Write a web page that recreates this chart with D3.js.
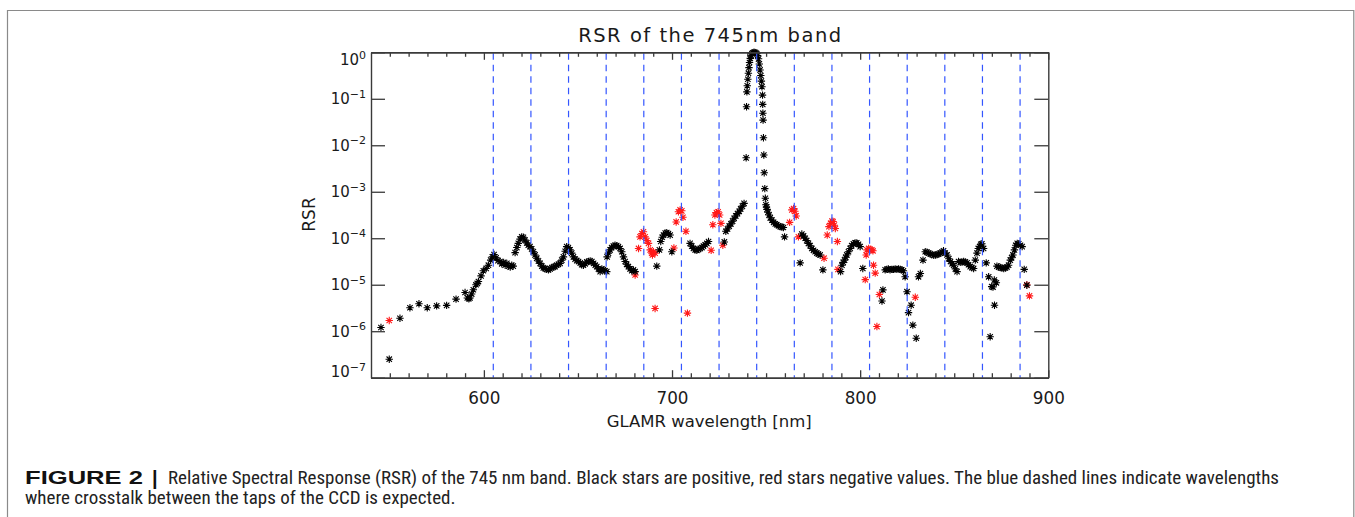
<!DOCTYPE html>
<html><head><meta charset="utf-8">
<script src="https://cdn.jsdelivr.net/npm/d3@7"></script>
<style>body{margin:0;background:#fff} svg{display:block}</style>
</head><body>
<svg id="chart" width="1355" height="517"></svg>
<script>
// ---------- data (wavelength nm, |RSR|) ----------
const positivePoints = [
[545.3,1.2e-6],[549.7,2.5e-7],[555.4,1.9e-6],[560.7,3.2e-6],[565.5,3.9e-6],[569.9,3.2e-6],[574.9,3.5e-6],[580.2,3.6e-6],[585.2,4.9e-6],
[590.0,6.8e-6],[591.2,5.2e-6],[592.0,5.0e-6],[592.6,5.2e-6],[593.5,6.3e-6],[594.4,7.8e-6],[595.8,1.0e-5],[596.5,1.07e-5],[597.1,1.17e-5],
[598.5,1.55e-5],[599.7,2.0e-5],[601.2,2.24e-5],[602.4,2.63e-5],[603.6,3.39e-5],[604.5,3.98e-5],[605.4,4.47e-5],[606.5,3.8e-5],[607.5,3.31e-5],
[608.6,3.16e-5],[609.5,2.82e-5],[610.5,3.02e-5],[611.3,2.63e-5],[612.2,2.88e-5],[613.2,2.51e-5],[614.0,2.4e-5],[614.8,2.63e-5],[615.6,2.51e-5],
[616.6,4.9e-5],[617.5,6.31e-5],[618.3,7.76e-5],[619.2,9.55e-5],[620.1,1.07e-4],[621.0,1.05e-4],[621.9,9.12e-5],[622.8,7.94e-5],[623.6,7.08e-5],
[624.5,6.61e-5],[625.4,5.89e-5],[626.3,5.13e-5],[627.2,4.37e-5],[628.1,3.72e-5],[629.0,3.24e-5],[629.9,2.88e-5],[630.8,2.51e-5],[631.6,2.29e-5],
[632.5,2.24e-5],[633.4,2.14e-5],[634.3,2.09e-5],[635.2,2.19e-5],[636.1,2.34e-5],[637.0,2.4e-5],[637.8,2.45e-5],[638.7,2.63e-5],[639.6,2.75e-5],
[640.5,2.88e-5],[641.4,3.39e-5],[642.3,3.98e-5],[643.2,5.25e-5],[644.0,6.61e-5],[644.9,6.31e-5],[645.8,5.62e-5],[646.7,4.79e-5],[647.6,3.98e-5],
[648.5,3.55e-5],[649.4,3.31e-5],[650.3,3.16e-5],[651.2,2.95e-5],[652.0,2.69e-5],[652.9,2.63e-5],[653.8,2.82e-5],[654.7,3.09e-5],[655.6,3.16e-5],
[656.5,3.24e-5],[657.4,3.16e-5],[658.3,2.88e-5],[659.2,2.63e-5],[660.0,2.45e-5],[660.9,2.19e-5],[661.8,1.91e-5],[662.7,2.19e-5],[663.5,2.09e-5],
[664.4,2.0e-5],[665.3,1.91e-5],[665.5,3.98e-5],[666.2,4.79e-5],[667.1,5.62e-5],[667.9,6.31e-5],[668.8,6.76e-5],[669.7,7.08e-5],[670.6,6.92e-5],
[671.5,6.61e-5],[672.4,6.03e-5],[673.3,5.13e-5],[674.2,3.98e-5],[675.1,3.16e-5],[675.9,2.75e-5],[676.8,2.45e-5],[677.7,2.19e-5],[678.6,2.0e-5],
[679.5,2.09e-5],[680.4,1.91e-5],
[691.9,2.51e-5],[693.3,5.62e-5],[694.0,8.51e-5],[694.8,1.05e-4],[695.5,1.17e-4],[696.4,1.29e-4],[697.2,1.32e-4],[698.1,1.26e-4],[699.0,1.17e-4],[699.9,5.13e-5],
[709.6,7.76e-5],[710.5,6.76e-5],[711.4,6.03e-5],[712.3,5.62e-5],[713.2,5.5e-5],[714.1,5.75e-5],[715.0,6.03e-5],[715.9,6.31e-5],[716.7,6.76e-5],
[717.6,7.24e-5],[718.5,7.76e-5],[719.4,8.51e-5],
[727.8,8.32e-5],[728.6,1.41e-4],[729.5,1.58e-4],[730.4,1.82e-4],[731.3,2.04e-4],[732.2,2.34e-4],[733.0,2.69e-4],[733.9,3.02e-4],[734.8,3.39e-4],
[735.7,3.8e-4],[736.5,4.27e-4],[737.4,4.9e-4],[738.3,5.62e-4],
[739.4,5.37e-3],[739.6,6.76e-2],[739.8,0.141],[740.0,0.191],[740.3,0.263],[740.6,0.355],[740.9,0.468],[741.2,0.603],[741.6,0.741],[742.0,0.851],
[742.5,0.933],[743.0,0.977],[743.5,1.0],[744.0,0.995],[744.5,0.977],[745.0,0.933],[745.5,0.851],[746.0,0.724],[746.4,0.562],[746.8,0.417],
[747.2,0.316],[747.5,0.24],[747.8,0.182],[748.1,0.12],[748.2,7.59e-2],[748.3,4.9e-2],[748.4,3.47e-2],[748.6,1.45e-2],[748.8,6.17e-3],
[749.0,2.57e-3],[749.3,1.17e-3],[749.6,7.24e-4],[749.9,5.25e-4],[750.2,4.68e-4],[750.5,4.17e-4],[751.0,3.63e-4],[751.6,3.16e-4],[752.2,2.75e-4],
[753.1,2.45e-4],[754.0,2.19e-4],[754.9,2.04e-4],[755.7,1.95e-4],[756.6,1.86e-4],[757.5,1.78e-4],[758.4,1.74e-4],[759.2,1.7e-4],[759.8,1.07e-4],
[768.1,2.95e-5],[769.0,1.23e-4],[769.9,1.12e-4],[770.8,1.0e-4],[771.6,8.91e-5],[772.5,7.76e-5],[773.4,6.92e-5],[774.3,6.03e-5],[775.2,5.5e-5],
[776.1,5.13e-5],[777.0,4.79e-5],[777.8,4.57e-5],[778.7,4.37e-5],[780.2,2.09e-5],
[789.6,1.91e-5],[790.3,2.63e-5],[791.0,3.02e-5],[791.7,3.39e-5],[792.3,3.89e-5],[792.9,4.37e-5],[793.8,5.13e-5],[794.7,6.03e-5],[795.5,6.92e-5],
[796.4,7.59e-5],[797.3,7.94e-5],[798.2,7.94e-5],[799.1,7.41e-5],[800.0,6.61e-5],[801.4,2.24e-5],
[811.6,4.47e-6],[812.1,7.76e-6],[813.3,2.09e-5],[814.2,2.14e-5],[815.0,2.19e-5],[815.9,2.09e-5],[816.8,2.14e-5],[817.7,2.14e-5],[818.6,2.19e-5],
[819.5,2.14e-5],[820.4,2.19e-5],[821.3,2.14e-5],[822.1,2.09e-5],[823.0,2.0e-5],[823.9,1.48e-5],[824.9,7.08e-6],[825.7,2.51e-6],[827.1,3.63e-6],
[828.0,1.35e-6],[829.8,7.08e-7],[831.0,1.48e-5],[832.0,1.74e-5],[833.4,3.39e-5],[834.6,5.13e-5],[835.5,5.01e-5],[836.4,4.79e-5],[837.3,4.57e-5],
[838.2,4.47e-5],[839.1,4.27e-5],[840.0,4.37e-5],[840.9,4.47e-5],[841.7,4.57e-5],[842.6,4.79e-5],[843.5,5.01e-5],[844.3,5.37e-5],[845.2,4.79e-5],
[846.2,4.37e-5],[847.1,3.63e-5],[848.0,3.16e-5],[848.9,2.82e-5],[849.7,2.63e-5],[850.6,2.19e-5],[851.5,1.91e-5],[852.3,3.16e-5],[853.2,3.02e-5],
[854.1,3.09e-5],[855.0,3.16e-5],[855.9,3.09e-5],[856.8,2.95e-5],[857.6,2.69e-5],[858.5,2.45e-5],[859.4,2.34e-5],[860.3,2.24e-5],[861.2,3.39e-5],
[862.1,4.79e-5],[862.8,6.03e-5],[863.5,6.61e-5],[864.1,7.41e-5],[864.7,7.59e-5],[865.6,6.03e-5],[867.0,2.95e-5],[868.3,1.48e-5],[869.1,7.59e-7],
[869.9,9.12e-6],[870.6,8.91e-6],[871.3,1.26e-5],[871.4,3.63e-6],[872.4,1.1e-5],[872.7,2.51e-5],[873.6,2.4e-5],[874.5,2.34e-5],[875.4,2.29e-5],
[876.3,2.24e-5],[877.2,2.29e-5],[878.0,2.4e-5],[878.9,2.63e-5],[879.8,3.39e-5],[880.5,3.8e-5],[881.2,4.37e-5],[882.0,5.62e-5],[882.7,7.08e-5],
[883.5,7.76e-5],[884.3,7.59e-5],[885.2,7.08e-5],[886.1,6.61e-5],[887.2,2.14e-5],[888.6,9.77e-6]
];
const negativePoints = [
[549.7,1.7e-6],
[680.4,1.62e-5],[682.2,6.03e-5],[683.0,1.07e-4],[684.0,1.26e-4],[684.8,1.38e-4],[685.7,1.07e-4],[686.6,8.91e-5],[687.5,7.76e-5],[688.4,5.62e-5],
[689.3,4.79e-5],[689.6,4.37e-5],[690.1,5.13e-5],[691.0,4.79e-5],[691.0,3.09e-6],
[701.0,6.17e-5],[702.2,2.24e-4],[703.4,3.72e-4],[704.3,4.07e-4],[705.2,3.89e-4],[705.8,2.82e-4],[707.4,1.41e-4],[708.2,2.45e-6],
[720.8,5.5e-5],[721.7,1.95e-4],[722.8,3.16e-4],[723.6,3.55e-4],[724.5,3.72e-4],[725.3,3.16e-4],[726.0,2.09e-4],[727.0,7.08e-5],
[762.5,2.19e-4],[763.7,4.07e-4],[764.6,4.37e-4],[765.3,3.8e-4],[766.0,3.02e-4],[767.2,1.07e-4],
[780.8,3.72e-5],[782.5,1.17e-4],[783.4,1.78e-4],[784.3,2.09e-4],[785.0,2.34e-4],[785.6,2.29e-4],[786.3,1.91e-4],[786.8,1.62e-4],[787.9,8.51e-5],[788.2,2.14e-5],
[802.7,1.29e-5],[803.2,4.37e-5],[803.6,5.62e-5],[804.5,6.03e-5],[805.3,5.75e-5],[806.2,5.62e-5],[806.8,5.37e-5],[807.1,2.63e-5],[808.0,1.78e-5],
[808.9,1.26e-6],[810.2,6.17e-6],
[829.3,5.37e-6],
[888.6,1.0e-5],[890.0,5.75e-6]
];
const crosstalkWl = [605,625,645,665,685,705,725,745,765,785,805,825,845,865,885];
const xMajorTicks = [600,700,800,900];
const xMinorTicks = [550,560,570,580,590,610,620,630,640,650,660,670,680,690,710,720,730,740,750,760,770,780,790,810,820,830,840,850,860,870,880,890];
const yTickExponents = [0,-1,-2,-3,-4,-5,-6,-7];
const titleText = "RSR of the 745nm band";
const xLabelText = "GLAMR wavelength [nm]";
const yLabelText = "RSR";
const captionBold = "FIGURE 2";
const captionLine1 = "Relative Spectral Response (RSR) of the 745 nm band. Black stars are positive, red stars negative values. The blue dashed lines indicate wavelengths";
const captionLine2 = "where crosstalk between the taps of the CCD is expected.";

// ---------- layout ----------
const L = 371, R = 1048.3, T = 52.3, B = 377.7;
const svg = d3.select("#chart");
const x = d3.scaleLinear().domain([540, 900]).range([L, R]);
const y = d3.scaleLog().domain([1e-7, 1]).range([B, T]);
const axisColor = "#3a3a3a";
const font = "'DejaVu Sans', Verdana, sans-serif";

// figure border
svg.append("path")
  .attr("d", "M7.5,517 V10.5 H1353.8 V517")
  .attr("fill", "none").attr("stroke", "#8a8a8a").attr("stroke-width", 1.2);

// ---------- points ----------
function starPath(cx, cy) {
  const r = 3.7, d = 2.7;
  const p = d3.path();
  p.moveTo(cx - r, cy); p.lineTo(cx + r, cy);
  p.moveTo(cx, cy - r); p.lineTo(cx, cy + r);
  p.moveTo(cx - d, cy - d); p.lineTo(cx + d, cy + d);
  p.moveTo(cx - d, cy + d); p.lineTo(cx + d, cy - d);
  return p.toString();
}
svg.append("clipPath").attr("id", "plotclip")
  .append("rect").attr("x", L - 4).attr("y", T - 4).attr("width", R - L + 8).attr("height", B - T + 8);

const pts = svg.append("g").attr("clip-path", "url(#plotclip)");
pts.selectAll("path.neg").data(negativePoints).join("path")
  .attr("class", "neg")
  .attr("d", d => starPath(x(d[0]), y(d[1])))
  .attr("stroke", "#ff1a1a").attr("stroke-width", 1.1).attr("fill", "none");
pts.selectAll("path.pos").data(positivePoints).join("path")
  .attr("class", "pos")
  .attr("d", d => starPath(x(d[0]), y(d[1])))
  .attr("stroke", "#000").attr("stroke-width", 1.1).attr("fill", "none");

// ---------- crosstalk dashed lines ----------
svg.append("g").selectAll("line").data(crosstalkWl).join("line")
  .attr("x1", d => x(d)).attr("x2", d => x(d))
  .attr("y1", T + 1).attr("y2", B)
  .attr("stroke", "#3456ff").attr("stroke-width", 1.2)
  .attr("stroke-dasharray", "6.5,5");

// ---------- axes ----------
function styleAxis(g) {
  g.selectAll("path.domain").attr("stroke", axisColor).attr("stroke-width", 1.4);
  g.selectAll(".tick line").attr("stroke", axisColor).attr("stroke-width", 1.3);
}
const gB = svg.append("g").attr("transform", `translate(0,${B})`);
gB.call(d3.axisBottom(x).tickValues(xMinorTicks).tickSizeInner(-4.5).tickSizeOuter(0).tickFormat(""));
gB.append("g").call(d3.axisBottom(x).tickValues(xMajorTicks).tickSizeInner(-7.5).tickSizeOuter(0).tickPadding(14.3).tickFormat(d3.format("d")));
gB.selectAll("text").attr("font-family", font).attr("font-size", 16.8).attr("fill", "#1a1a1a");
styleAxis(gB);
const gT = svg.append("g").attr("transform", `translate(0,${T})`);
gT.call(d3.axisTop(x).tickValues(xMinorTicks).tickSizeInner(-4.5).tickSizeOuter(0).tickFormat(""));
gT.append("g").call(d3.axisTop(x).tickValues(xMajorTicks).tickSizeInner(-7.5).tickSizeOuter(0).tickFormat(""));
styleAxis(gT);
const yTickVals = yTickExponents.map(e => Math.pow(10, e));
const gL = svg.append("g").attr("transform", `translate(${L},0)`);
gL.call(d3.axisLeft(y).tickValues(yTickVals).tickSizeInner(-14).tickSizeOuter(0).tickFormat(""));
styleAxis(gL);
const gR = svg.append("g").attr("transform", `translate(${R},0)`);
gR.call(d3.axisRight(y).tickValues(yTickVals).tickSizeInner(-14).tickSizeOuter(0).tickFormat(""));
styleAxis(gR);

// y tick labels (10^e)
const yl = svg.append("g").attr("font-family", font).attr("fill", "#1a1a1a");
yTickExponents.forEach(e => {
  const yc = Math.max(T + 7.4, Math.min(B - 6, y(Math.pow(10, e))));
  const t = yl.append("text").attr("x", 366).attr("y", yc + 5.4)
    .attr("text-anchor", "end").attr("font-size", 15);
  t.append("tspan").text("10");
  t.append("tspan").attr("dy", -6.5).attr("font-size", 11).text(e === 0 ? "0" : "\u2212" + Math.abs(e));
});

// titles
svg.append("text").attr("x", (L + R) / 2).attr("y", 42.3).attr("text-anchor", "middle")
  .attr("font-family", font).attr("font-size", 19.5).attr("fill", "#1a1a1a")
  .attr("textLength", 263).attr("lengthAdjust", "spacing").text(titleText);
svg.append("text").attr("x", 709.2).attr("y", 426.5).attr("text-anchor", "middle")
  .attr("font-family", font).attr("font-size", 16.5).attr("fill", "#1a1a1a")
  .attr("textLength", 205).attr("lengthAdjust", "spacing").text(xLabelText);
svg.append("text").attr("transform", "translate(315,214.5) rotate(-90)").attr("text-anchor", "middle")
  .attr("font-family", font).attr("font-size", 17).attr("fill", "#1a1a1a").text(yLabelText);

// caption
const capFont = "'Liberation Sans Narrow','Roboto Condensed','Liberation Sans',Arial,sans-serif";
const boldFont = "'Liberation Sans',Arial,sans-serif";
svg.append("text").attr("x", 25).attr("y", 483.5).attr("font-family", boldFont).attr("font-weight", "bold")
  .attr("font-size", 17.5).attr("fill", "#111").attr("textLength", 118).attr("lengthAdjust", "spacingAndGlyphs").text(captionBold);
svg.append("text").attr("x", 152).attr("y", 485).attr("font-family", boldFont).attr("font-weight", "bold")
  .attr("font-size", 20).attr("fill", "#111").text("|");
const capStart = 168, capEnd = 1279;
const c1 = svg.append("text").attr("x", capStart).attr("y", 483.5).attr("font-family", capFont)
  .attr("font-size", 17.5).attr("fill", "#222").text(captionLine1);
const c2 = svg.append("text").attr("x", 25).attr("y", 503.5).attr("font-family", capFont)
  .attr("font-size", 17.5).attr("fill", "#222").text(captionLine2);
const n1 = c1.node().getComputedTextLength();
const n2 = c2.node().getComputedTextLength();
const scale = (capEnd - capStart) / n1;
c1.attr("textLength", capEnd - capStart).attr("lengthAdjust", "spacingAndGlyphs");
c2.attr("textLength", n2 * scale).attr("lengthAdjust", "spacingAndGlyphs");
</script>
</body></html>
